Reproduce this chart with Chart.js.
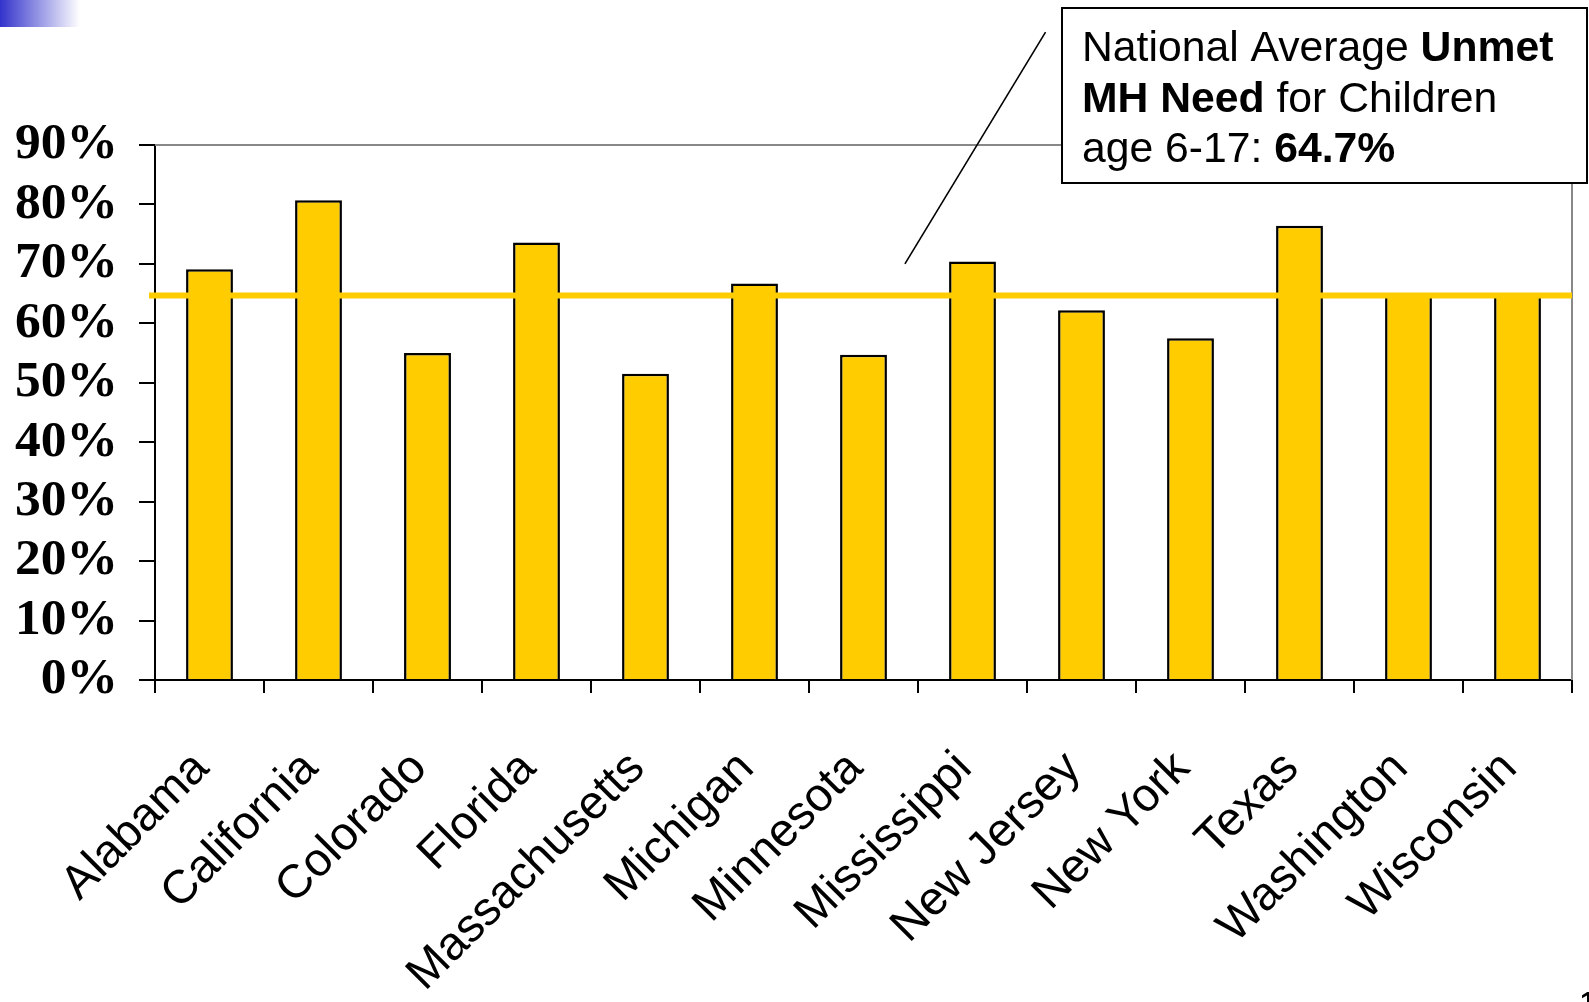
<!DOCTYPE html>
<html>
<head>
<meta charset="utf-8">
<title>Unmet Mental Health Need for Children by State</title>
<script src="https://cdn.jsdelivr.net/npm/chart.js@4/dist/chart.umd.min.js"></script>
<style>
  html, body { margin: 0; padding: 0; background: #fff; overflow: hidden; }
  #wrap { width: 1589px; height: 1002px; position: relative; }
</style>
</head>
<body>
<div id="wrap"><canvas id="chart" width="1589" height="1002"></canvas></div>
<script>
// States reported
const categories = ['Alabama', 'California', 'Colorado', 'Florida', 'Massachusetts', 'Michigan',
  'Minnesota', 'Mississippi', 'New Jersey', 'New York', 'Texas', 'Washington', 'Wisconsin'];

// Share of children age 6-17 with unmet mental health need (%)
const unmetNeed = [69.1, 80.7, 55.0, 73.6, 51.5, 66.7, 54.7, 70.4, 62.2, 57.5, 76.4, 64.7, 64.7];

// National average reference line (%)
const nationalAverage = 64.7;

// Y axis tick values (%)
const yTicks = [0, 10, 20, 30, 40, 50, 60, 70, 80, 90];

// Callout leader line ends, in axis units (category index, percent)
const leaderFrom = { x: 6.38, y: 70.0 };
const leaderTo = { x: 7.67, y: 109.0 };

const YELLOW = '#FFCC00';

const decorPlugin = {
  id: 'decor',
  beforeDraw(chart) {
    const ctx = chart.ctx;
    ctx.save();
    ctx.fillStyle = '#fff';
    ctx.fillRect(0, 0, chart.width, chart.height);
    // corner accent
    const g = ctx.createLinearGradient(0, 0, 80, 0);
    g.addColorStop(0, '#3333CC');
    g.addColorStop(1, 'rgba(255,255,255,1)');
    ctx.fillStyle = g;
    ctx.fillRect(0, 0, 80, 27);
    ctx.restore();
  },
  beforeDatasetsDraw(chart) {
    const { ctx, chartArea: a } = chart;
    ctx.save();
    ctx.strokeStyle = '#888';
    ctx.lineWidth = 2;
    ctx.beginPath();
    ctx.moveTo(a.left, a.top);
    ctx.lineTo(a.right, a.top);
    ctx.lineTo(a.right, a.bottom);
    ctx.stroke();
    ctx.restore();
  },
  afterDatasetsDraw(chart) {
    const { ctx, chartArea: a, scales } = chart;
    const y = scales.y.getPixelForValue(nationalAverage);
    ctx.save();
    ctx.strokeStyle = YELLOW;
    ctx.lineWidth = 6;
    ctx.beginPath();
    ctx.moveTo(a.left - 6, y);
    ctx.lineTo(a.right, y);
    ctx.stroke();
    ctx.restore();
  },
  afterDraw(chart) {
    const { ctx, scales } = chart;
    ctx.save();
    // leader line
    ctx.strokeStyle = '#000';
    ctx.lineWidth = 1.6;
    ctx.beginPath();
    ctx.moveTo(scales.x.getPixelForValue(leaderFrom.x), scales.y.getPixelForValue(leaderFrom.y));
    ctx.lineTo(scales.x.getPixelForValue(leaderTo.x), scales.y.getPixelForValue(leaderTo.y));
    ctx.stroke();

    // callout box
    const bx = 1062, by = 8, bw = 525, bh = 175;
    ctx.fillStyle = '#fff';
    ctx.fillRect(bx, by, bw, bh);
    ctx.strokeStyle = '#000';
    ctx.lineWidth = 2;
    ctx.strokeRect(bx, by, bw, bh);

    const fam = '"Liberation Sans", Arial, sans-serif';
    const size = 42.7;
    const lines = [
      [['National Average ', false], ['Unmet', true]],
      [['MH Need', true], [' for Children', false]],
      [['age 6-17: ', false], [nationalAverage.toFixed(1) + '%', true]]
    ];
    ctx.fillStyle = '#000';
    ctx.textBaseline = 'alphabetic';
    ctx.textAlign = 'left';
    lines.forEach((parts, i) => {
      let x = 1082;
      const yb = 61 + i * 50.5;
      parts.forEach(([t, bold]) => {
        ctx.font = (bold ? 'bold ' : '') + size + 'px ' + fam;
        ctx.fillText(t, x, yb);
        x += ctx.measureText(t).width;
      });
    });

    // page number
    ctx.font = 'bold 30px ' + fam;
    ctx.fillText('1', 1580, 1012);
    ctx.restore();
  }
};

new Chart(document.getElementById('chart'), {
  type: 'bar',
  data: {
    labels: categories,
    datasets: [{
      data: unmetNeed,
      backgroundColor: YELLOW,
      borderColor: '#000',
      borderWidth: 2.5,
      barPercentage: 0.43,
      categoryPercentage: 1.0
    }]
  },
  options: {
    responsive: false,
    animation: false,
    layout: { padding: { top: 145, right: 17, left: 0, bottom: 0 } },
    plugins: { legend: { display: false }, tooltip: { enabled: false } },
    scales: {
      x: {
        grid: { drawOnChartArea: false, drawTicks: true, tickLength: 13, color: '#000', lineWidth: 2, offset: true },
        border: { display: true, color: '#000', width: 2 },
        ticks: {
          autoSkip: false, maxRotation: 45, minRotation: 45, color: '#000', padding: 48, labelOffset: -8,
          font: { family: '"Liberation Sans", Arial, sans-serif', size: 47 }
        },
        afterFit(s) { s.height = 322; s.paddingLeft = 0; s.paddingRight = 0; }
      },
      y: {
        min: 0, max: 90,
        afterBuildTicks(s) { s.ticks = yTicks.map(v => ({ value: v })); },
        ticks: {
          autoSkip: false, color: '#000', padding: 21,
          callback: v => v + '%',
          font: { family: '"Liberation Serif", "Times New Roman", serif', size: 51.5, weight: 'bold', lineHeight: 1 }
        },
        grid: { drawOnChartArea: false, drawTicks: true, tickLength: 16, color: '#000', lineWidth: 2 },
        border: { display: true, color: '#000', width: 2 },
        afterFit(s) { s.width = 155; s.paddingTop = 0; s.paddingBottom = 0; }
      }
    }
  },
  plugins: [decorPlugin]
});
</script>
</body>
</html>
